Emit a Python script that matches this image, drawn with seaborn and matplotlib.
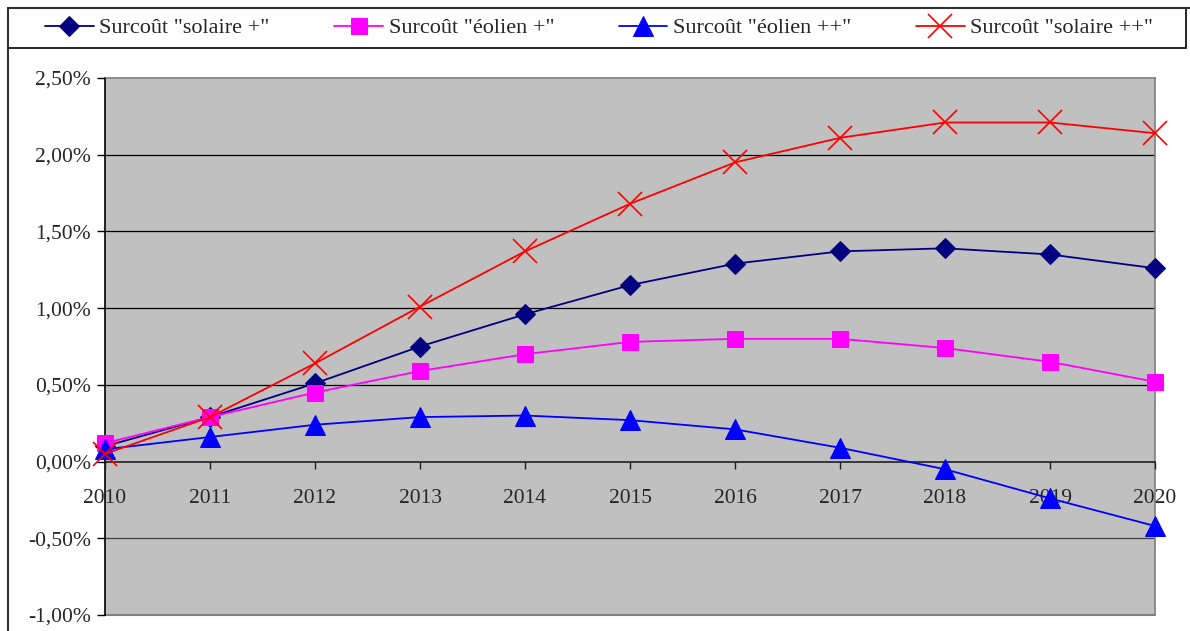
import pandas as pd
import matplotlib.pyplot as plt
import seaborn as sns
from matplotlib.ticker import FuncFormatter, MultipleLocator
from matplotlib.lines import Line2D
from matplotlib.patches import Rectangle

# Data (percent)
years = [2010, 2011, 2012, 2013, 2014, 2015, 2016, 2017, 2018, 2019, 2020]
solaire_plus = [0.10, 0.29, 0.51, 0.75, 0.96, 1.15, 1.29, 1.37, 1.39, 1.35, 1.26]
eolien_plus = [0.12, 0.29, 0.45, 0.59, 0.70, 0.78, 0.80, 0.80, 0.74, 0.65, 0.52]
eolien_plusplus = [0.08, 0.16, 0.24, 0.29, 0.30, 0.27, 0.21, 0.09, -0.05, -0.24, -0.42]
solaire_plusplus = [0.05, 0.29, 0.64, 1.01, 1.37, 1.68, 1.95, 2.11, 2.21, 2.21, 2.14]

labels = ['Surcoût "solaire +"', 'Surcoût "éolien +"',
          'Surcoût "éolien ++"', 'Surcoût "solaire ++"']

sns.set_style("white")
plt.rcParams['font.family'] = ['Liberation Serif', 'DejaVu Serif']

fig = plt.figure(figsize=(11.9, 6.31), dpi=100)
W, H = 1190, 631
ax = fig.add_axes([105 / W, 1 - 615 / H, (1155 - 105) / W, (615 - 78) / H])
ax.set_facecolor('#C0C0C0')

df = pd.DataFrame({'year': years,
                   labels[0]: solaire_plus,
                   labels[1]: eolien_plus,
                   labels[2]: eolien_plusplus,
                   labels[3]: solaire_plusplus})

styles = [
    (labels[0], '#000080', 'D', 10.5, {}),
    (labels[1], '#FF00FF', 's', 12, {}),
    (labels[2], '#0000FF', '^', 14, {}),
    (labels[3], '#FF0000', 'x', 17, {'markeredgewidth': 1.2}),
]
for name, color, marker, ms, extra in styles:
    sns.lineplot(data=df, x='year', y=name, ax=ax, color=color, marker=marker,
                 markersize=ms, markeredgecolor=color, linewidth=1.3,
                 label=name, zorder=3, clip_on=False, **extra)

# horizontal grid lines below the series
for v in [0.5, 1.0, 1.5, 2.0]:
    ax.axhline(v, color='black', linewidth=0.9, zorder=1)
ax.axhline(-0.5, color='#404040', linewidth=0.9, zorder=1)
ax.axhline(-1.0, color='#808080', linewidth=1.5, zorder=1, clip_on=False)

ax.set_xlim(2010, 2020)
ax.set_ylim(-1.0, 2.5)
ax.set_axisbelow(False)
ax.yaxis.set_major_locator(MultipleLocator(0.5))
ax.yaxis.set_major_formatter(FuncFormatter(lambda v, p: f"{v:.2f}%".replace('.', ',')))
ax.set_xticks(years)
ax.set_xticklabels([str(y) for y in years])
ax.set_xlabel('')
ax.set_ylabel('')

ax.spines['bottom'].set_position(('data', 0))
ax.spines['bottom'].set_color('#202020')
ax.spines['left'].set_color('black')
ax.spines['top'].set_color('#808080')
ax.spines['right'].set_color('#808080')
for s in ax.spines.values():
    s.set_visible(True)
    s.set_linewidth(1.2)

ax.tick_params(axis='x', direction='out', length=5, width=1, color='#202020',
               labelsize=15.5, pad=15, bottom=True)
ax.tick_params(axis='y', direction='out', length=6, width=1, color='black',
               labelsize=15.5, pad=4, left=True)
for t in ax.get_xticklabels():
    t.set_zorder(5)

ax.get_legend().remove()
handles, hl = ax.get_legend_handles_labels()
fig.legend(handles, hl, loc='center', bbox_to_anchor=(599 / W, 1 - 28 / H),
           ncol=4, frameon=False, fontsize=16, handlelength=2.2,
           handletextpad=0.25, columnspacing=2.9, borderpad=0)

# legend box and chart frame
fig.add_artist(Rectangle((8 / W, 1 - 48 / H), (1186 - 8) / W, 40 / H,
                         transform=fig.transFigure, fill=False,
                         edgecolor='black', linewidth=1.2))
fig.add_artist(Line2D([8 / W, 8 / W], [0, 1 - 8 / H], transform=fig.transFigure,
                      color='#303030', linewidth=1.5))
fig.add_artist(Line2D([8 / W, 1], [1 - 8 / H, 1 - 8 / H], transform=fig.transFigure,
                      color='#303030', linewidth=1.5))

fig.savefig('out.png', dpi=100)
